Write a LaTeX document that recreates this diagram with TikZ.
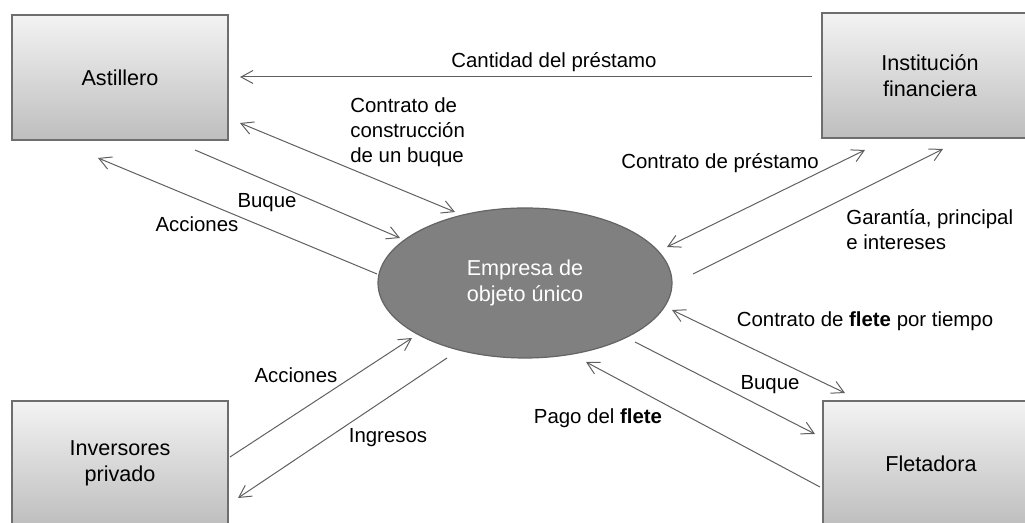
\documentclass[tikz,border=0pt]{standalone}
\usepackage{fontspec}
\setmainfont{Liberation Sans}
\usetikzlibrary{arrows.meta,shapes.geometric}
\definecolor{cLine}{RGB}{96,96,96}
\definecolor{cBoxTop}{RGB}{243,243,243}
\definecolor{cBoxBot}{RGB}{190,190,190}
\definecolor{cBoxEdge}{RGB}{110,110,110}
\definecolor{cEll}{RGB}{128,128,128}
\definecolor{cEllEdge}{RGB}{100,100,100}

\begin{document}
\begin{tikzpicture}[x=0.5pt,y=-0.5pt]
\tikzset{party/.style={draw=cBoxEdge,line width=0.6pt,top color=cBoxTop,bottom color=cBoxBot,minimum width=108pt,minimum height=62.5pt,align=center,font=\fontsize{10.8}{13}\selectfont},
firm/.style={ellipse,draw=cEllEdge,fill=cEll,line width=0.6pt,minimum width=147pt,minimum height=75pt,inner sep=0pt,align=center,text=white,font=\fontsize{10.8}{13}\selectfont},
lbl/.style={inner sep=0pt,font=\fontsize{10.2}{12.5}\selectfont},
flow/.style={draw=cLine,line width=0.5pt,-{Straight Barb[length=6pt,width=6.5pt]}},
both/.style={flow,{Straight Barb[length=6pt,width=6.5pt]}-{Straight Barb[length=6pt,width=6.5pt]}}}
\useasboundingbox (0,0) rectangle (1025,523);
\clip (0,0) rectangle (1025,523);

\node[party] (ast) at (120,77.5) {Astillero};
\node[party] (fin) at (930,75.5) {Institución\\financiera};
\node[party] (inv) at (120,463.5) {Inversores\\privado};
\node[party] (fle) at (931,463.5) {Fletadora};
\node[firm] (spv) at (525,283) {Empresa de\\objeto único};

% loose ends of the flows
\coordinate (loanE) at (812,77);    \coordinate (loanW) at (240,77);
\coordinate (buildA) at (240,123);  \coordinate (buildB) at (455,212);
\coordinate (shipA) at (195,150);   \coordinate (shipB) at (400,238);
\coordinate (shareA) at (377,274);  \coordinate (shareB) at (98,158);
\coordinate (contrA) at (865,150);  \coordinate (contrB) at (667,247);
\coordinate (repayA) at (693,274);  \coordinate (repayB) at (943,149);
\coordinate (charterA) at (672,310);\coordinate (charterB) at (845,393);
\coordinate (deliverA) at (635,342);\coordinate (deliverB) at (815,434);
\coordinate (hireA) at (820,487);   \coordinate (hireB) at (586,362);
\coordinate (investA) at (230,457); \coordinate (investB) at (412,338);
\coordinate (incomeA) at (447,358); \coordinate (incomeB) at (238,498);

\draw[flow] (loanE) -- (loanW);
\draw[both] (buildA) -- (buildB);
\draw[flow] (shipA) -- (shipB);
\draw[flow] (shareA) -- (shareB);
\draw[both] (contrA) -- (contrB);
\draw[flow] (repayA) -- (repayB);
\draw[both] (charterA) -- (charterB);
\draw[flow] (deliverA) -- (deliverB);
\draw[flow] (hireA) -- (hireB);
\draw[flow] (investA) -- (investB);
\draw[flow] (incomeA) -- (incomeB);

\node[lbl] (tLoan) at (554,62) {Cantidad del préstamo};
\node[lbl,align=left,anchor=west] (tBuild) at (350,132) {Contrato de\\construcción\\de un buque};
\node[lbl] (tShip) at (267,203) {Buque};
\node[lbl] (tShare) at (197,224) {Acciones};
\node[lbl] (tContr) at (720,163) {Contrato de préstamo};
\node[lbl,align=left,anchor=west] (tRepay) at (846,230) {Garantía, principal\\e intereses};
\node[lbl] (tCharter) at (865,321) {Contrato de \textbf{flete} por tiempo};
\node[lbl] (tDeliver) at (770,385) {Buque};
\node[lbl] (tHire) at (598,418) {Pago del \textbf{flete}};
\node[lbl] (tInvest) at (296,375) {Acciones};
\node[lbl] (tIncome) at (388,438) {Ingresos};
\end{tikzpicture}
\end{document}
